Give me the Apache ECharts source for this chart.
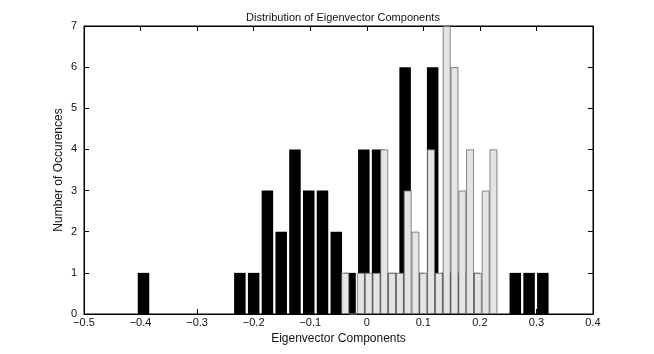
<!DOCTYPE html>
<html>
<head>
<meta charset="utf-8">
<script src="https://cdn.jsdelivr.net/npm/echarts@6/dist/echarts.min.js"></script>
<style>
  html, body { margin: 0; padding: 0; background: #fff; }
  #chart { width: 654px; height: 354px; }
</style>
</head>
<body>
<div id="chart"></div>
<script>
// black histogram (30 bins)
var blackCenters = [-0.3948, -0.3705, -0.3461, -0.3218, -0.2974, -0.2731, -0.2487, -0.2244, -0.2000, -0.1757,
                    -0.1513, -0.1270, -0.1026, -0.0783, -0.0539, -0.0296, -0.0052, 0.0191, 0.0435, 0.0678,
                    0.0922, 0.1165, 0.1409, 0.1652, 0.1896, 0.2139, 0.2383, 0.2626, 0.2870, 0.3113]
var blackCounts = [1, 0, 0, 0, 0, 0, 0, 1, 1, 3,
                   2, 4, 3, 3, 2, 1, 4, 4, 1, 6,
                   1, 6, 1, 1, 1, 0, 0, 1, 1, 1]
// light grey histogram (20 bins)
var greyCenters = [-0.0380, -0.0242, -0.0104, 0.0034, 0.0172, 0.0309, 0.0447, 0.0585, 0.0723, 0.0861,
                   0.0999, 0.1137, 0.1275, 0.1413, 0.1551, 0.1689, 0.1826, 0.1964, 0.2102, 0.2240]
var greyCounts = [1, 0, 1, 1, 1, 4, 1, 1, 3, 2,
                  1, 4, 1, 7, 6, 3, 4, 1, 3, 4]
var xTicks = [-0.5, 0.4, 0.1]   // min, max, step
var yTicks = [0, 7, 1]

var font = 'Liberation Sans, Arial, Helvetica, sans-serif'

function pairs(xs, ys) {
  var out = []
  for (var i = 0; i < xs.length; i++) {
    out.push([xs[i], ys[i]])
  }
  return out
}

function fmtX(v) {
  var r = Math.round(v * 10) / 10
  return String(r).replace('-', '\u2212')
}

var chart = echarts.init(document.getElementById('chart'), null, {renderer: 'canvas'})

var tickStyle = {show: true, inside: true, length: 5, lineStyle: {color: '#000', width: 1}}
var lineStyle = {show: true, onZero: false, lineStyle: {color: '#000'}}

chart.setOption({
  animation: false,
  backgroundColor: '#fff',
  title: {
    text: 'Distribution of Eigenvector Components',
    left: 338, top: 7, textAlign: 'center',
    textStyle: {fontFamily: font, fontSize: 11, fontWeight: 'normal', color: '#111'}
  },
  grid: {
    left: 84, right: 61, top: 26, bottom: 40,
    show: true, borderColor: '#000', borderWidth: 1,
    containLabel: false, outerBoundsMode: 'none'
  },
  xAxis: [{
    type: 'value', position: 'bottom',
    min: xTicks[0], max: xTicks[1], interval: xTicks[2],
    name: 'Eigenvector Components', nameLocation: 'middle', nameGap: 19,
    nameMoveOverlap: false,
    nameTextStyle: {fontFamily: font, fontSize: 12, color: '#111'},
    axisLine: lineStyle,
    axisTick: tickStyle,
    axisLabel: {fontFamily: font, fontSize: 11, color: '#111', margin: 3, formatter: fmtX},
    splitLine: {show: false}
  }, {
    type: 'value', position: 'top',
    min: xTicks[0], max: xTicks[1], interval: xTicks[2],
    axisLine: lineStyle,
    axisTick: tickStyle,
    axisLabel: {show: false},
    splitLine: {show: false}
  }],
  yAxis: [{
    type: 'value', position: 'left',
    min: yTicks[0], max: yTicks[1], interval: yTicks[2],
    name: 'Number of Occurences', nameLocation: 'middle', nameGap: 19,
    nameMoveOverlap: false,
    nameTextStyle: {fontFamily: font, fontSize: 12, color: '#111'},
    axisLine: lineStyle,
    axisTick: tickStyle,
    axisLabel: {fontFamily: font, fontSize: 11, color: '#111', margin: 7},
    splitLine: {show: false}
  }, {
    type: 'value', position: 'right',
    min: yTicks[0], max: yTicks[1], interval: yTicks[2],
    axisLine: lineStyle,
    axisTick: tickStyle,
    axisLabel: {show: false},
    splitLine: {show: false}
  }],
  series: [{
    name: 'black',
    type: 'bar',
    xAxisIndex: 0, yAxisIndex: 0,
    barWidth: 11.5,
    z: 2,
    itemStyle: {color: '#000'},
    data: pairs(blackCenters, blackCounts)
  }, {
    name: 'grey',
    type: 'bar',
    xAxisIndex: 1, yAxisIndex: 0,
    barWidth: 7.8,
    z: 3,
    itemStyle: {color: '#e4e4e4', borderColor: '#6a6a6a', borderWidth: 0.8},
    data: pairs(greyCenters, greyCounts)
  }]
})

window.addEventListener('resize', function () {
  chart.resize()
})
</script>
</body>
</html>
